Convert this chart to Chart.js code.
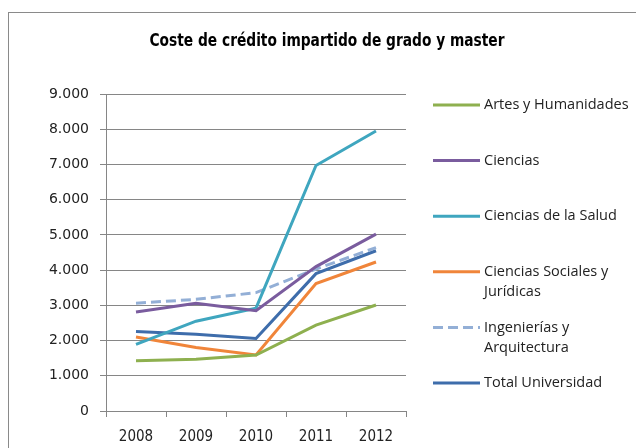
<!DOCTYPE html>
<html>
<head>
<meta charset="utf-8">
<script src="https://cdn.jsdelivr.net/npm/chart.js@4"></script>
<style>
  html, body { margin: 0; padding: 0; background: #fff; }
  #wrap { width: 636px; height: 448px; position: relative; }
</style>
</head>
<body>
<div id="wrap"><canvas id="coste-chart" width="636" height="448"></canvas></div>
<script>
const years = ['2008', '2009', '2010', '2011', '2012'];
const seriesNames = ['Artes y Humanidades', 'Ciencias', 'Ciencias de la Salud',
  'Ciencias Sociales y Jurídicas', 'Ingenierías y Arquitectura', 'Total Universidad'];
const legendLines = [['Artes y Humanidades'], ['Ciencias'], ['Ciencias de la Salud'],
  ['Ciencias Sociales y', 'Jurídicas'], ['Ingenierías y', 'Arquitectura'], ['Total Universidad']];
const artes = [1430, 1470, 1590, 2440, 3010];
const ciencias = [2810, 3060, 2850, 4100, 5020];
const salud = [1890, 2550, 2920, 6970, 7950];
const sociales = [2100, 1800, 1590, 3620, 4230];
const ingenierias = [3060, 3170, 3360, 4030, 4640];
const total = [2260, 2180, 2060, 3900, 4550];
const yTicks = [0, 1000, 2000, 3000, 4000, 5000, 6000, 7000, 8000, 9000];
const colors = ['#8eb04f', '#7a5c9e', '#3fa6bf', '#f0853a', '#93afd6', '#3e6dab'];

document.addEventListener('DOMContentLoaded', function () {
  const canvas = document.getElementById('coste-chart');
  const ctx = canvas.getContext('2d');
  const values = [artes, ciencias, salud, sociales, ingenierias, total];
  const fmt = v => String(v).replace(/\B(?=(\d{3})+(?!\d))/g, '.');

  const datasets = values.map((d, i) => ({
    label: seriesNames[i],
    data: d,
    borderColor: colors[i],
    backgroundColor: colors[i],
    borderWidth: 3,
    borderDash: i === 4 ? [10, 5] : [],
    pointRadius: 0,
    tension: 0,
    fill: false,
  }));

  // border, title and legend drawn by hand
  const decor = {
    id: 'decor',
    beforeDraw(chart) {
      const c = chart.ctx;
      c.save();
      c.fillStyle = '#fff';
      c.fillRect(0, 0, chart.width, chart.height);
      c.strokeStyle = '#8a8a8a';
      c.lineWidth = 1;
      c.strokeRect(8.5, 12.5, 700, 500);
      c.restore();
    },
    afterDraw(chart) {
      const c = chart.ctx;
      c.save();
      c.fillStyle = '#000';
      c.font = 'bold 18px "Liberation Sans Narrow", "DejaVu Sans Condensed", sans-serif';
      c.textAlign = 'center';
      c.textBaseline = 'middle';
      const title = 'Coste de crédito impartido de grado y master';
      const sx = Math.min(1, 355 / c.measureText(title).width);
      c.translate(327, 41);
      c.scale(sx, 1);
      c.fillText(title, 0, 0);
      c.setTransform(1, 0, 0, 1, 0, 0);

      c.font = '14.5px "Open Sans", sans-serif';
      c.textAlign = 'left';
      chart.data.datasets.forEach((ds, i) => {
        const y = 105 + i * 55.6;
        c.strokeStyle = ds.borderColor;
        c.lineWidth = 3;
        c.setLineDash(ds.borderDash || []);
        c.beginPath();
        c.moveTo(433, y);
        c.lineTo(480, y);
        c.stroke();
        c.setLineDash([]);
        c.fillStyle = '#222';
        legendLines[i].forEach((t, k) => c.fillText(t, 484, y + k * 20));
      });
      c.restore();
    }
  };

  new Chart(ctx, {
    type: 'line',
    data: { labels: years, datasets: datasets },
    plugins: [decor],
    options: {
      responsive: false,
      animation: false,
      layout: { padding: { top: 94, right: 230, left: 0, bottom: 0 } },
      plugins: { legend: { display: false }, title: { display: false }, tooltip: { enabled: false } },
      scales: {
        x: {
          offset: true,
          grid: { offset: true, drawOnChartArea: false, drawTicks: true, tickLength: 6, color: '#868686' },
          border: { color: '#868686' },
          ticks: { color: '#222', padding: 11, font: { family: '"Liberation Sans Narrow", "DejaVu Sans Condensed", sans-serif', size: 15 } },
          afterFit(scale) { scale.height = 37; }
        },
        y: {
          min: 0,
          max: 9000,
          afterBuildTicks(scale) { scale.ticks = yTicks.map(v => ({ value: v })); },
          grid: { color: '#868686', tickLength: 6 },
          border: { color: '#868686' },
          ticks: { color: '#222', padding: 11, callback: v => fmt(v), font: { family: '"DejaVu Sans", sans-serif', size: 14 } },
          afterFit(scale) { scale.width = 106; }
        }
      }
    }
  });
});
</script>
</body>
</html>
